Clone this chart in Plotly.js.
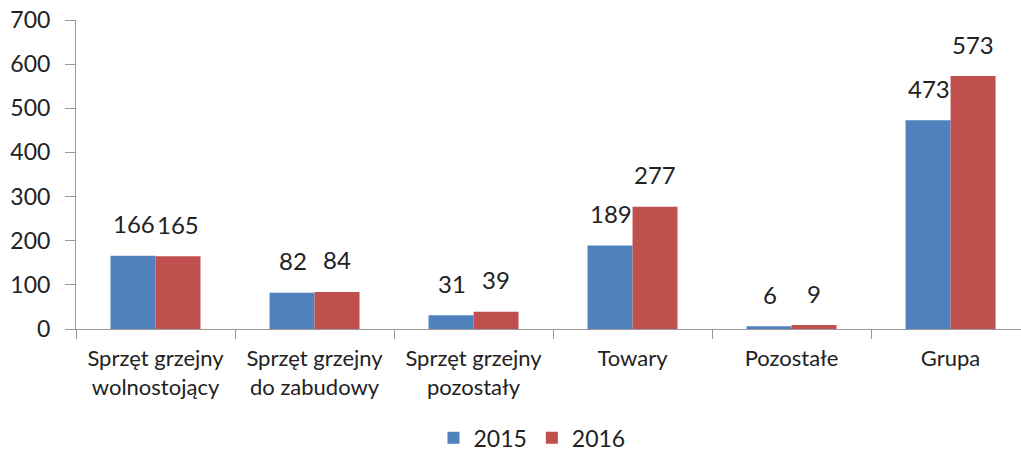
<!DOCTYPE html>
<html><head><meta charset="utf-8">
<script src="https://cdn.plot.ly/plotly-3.0.1.min.js"></script>
<style>html,body{margin:0;padding:0;background:#fff}#c{width:1021px;height:453px}</style>
</head><body><div id="c"></div>
<script>
var categories = ["Sprzęt grzejny<br>wolnostojący","Sprzęt grzejny<br>do zabudowy","Sprzęt grzejny<br>pozostały","Towary","Pozostałe","Grupa"];
var values2015 = [166, 82, 31, 189, 6, 473];
var values2016 = [165, 84, 39, 277, 9, 573];
var seriesNames = ["2015", "2016"];
var yTicks = [0,100,200,300,400,500,600,700];

var font = "Lato, 'Open Sans', sans-serif";
var ann = [];
[values2015, values2016].forEach(function(vals, s){
  vals.forEach(function(v, i){
    ann.push({x: categories[i], y: v, text: String(v), showarrow: false,
      xref:'x', yref:'y', xshift: s===0 ? -22 : 22, yshift: 32,
      font:{family:font, size:24, color:'#222'}});
  });
});

var traces = [
  {type:'bar', name:seriesNames[0], x:categories, y:values2015, marker:{color:'#4F81BD'}},
  {type:'bar', name:seriesNames[1], x:categories, y:values2016, marker:{color:'#C0504D'}}
];
var layout = {
  width:1021, height:453,
  margin:{l:76, r:0, t:20, b:124, autoexpand:false},
  barmode:'group', bargap:0.434, bargroupgap:0,
  paper_bgcolor:'#fff', plot_bgcolor:'#fff',
  font:{family:font, color:'#222'},
  showlegend:true,
  legend:{orientation:'h', x:0.4825, xanchor:'center', y:-0.352, yanchor:'middle',
    font:{family:font, size:23, color:'#222'}, itemwidth:30},
  xaxis:{type:'category', range:[-0.5, 5.443], showline:true, linecolor:'#999', linewidth:1,
    ticks:'outside', tickson:'boundaries', ticklen:9, tickcolor:'#999', ticklabelstandoff:10,
    tickfont:{family:font, size:22, color:'#222'}, showgrid:false, zeroline:false, automargin:false},
  yaxis:{range:[0,700], tickvals:yTicks, showline:true, linecolor:'#999', linewidth:1,
    ticks:'outside', ticklen:10, tickcolor:'#999', ticklabelstandoff:10, showgrid:false, zeroline:false,
    tickfont:{family:font, size:23, color:'#222'}, automargin:false},
  annotations: ann
};
Plotly.newPlot('c', traces, layout, {displayModeBar:false, staticPlot:true});
</script></body></html>
